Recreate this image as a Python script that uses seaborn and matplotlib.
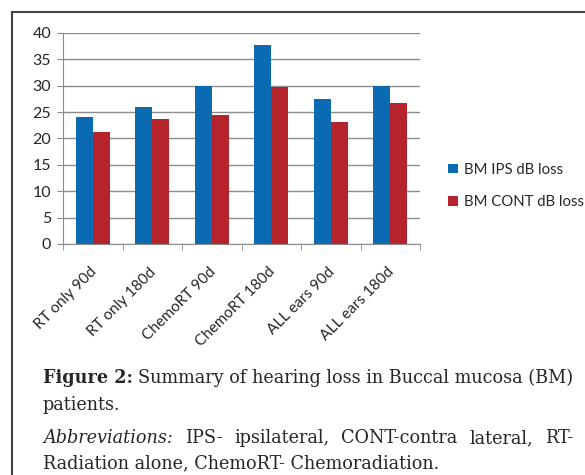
import pandas as pd
import matplotlib.pyplot as plt
import seaborn as sns
from matplotlib.patches import Rectangle
from matplotlib.transforms import ScaledTranslation

# Datos del grafico
categorias = ['RT only 90d', 'RT only 180d', 'ChemoRT 90d', 'ChemoRT 180d',
              'ALL ears 90d', 'ALL ears 180d']
series = ['BM IPS dB loss', 'BM CONT dB loss']
ips = [24.0, 26.0, 30.0, 37.7, 27.4, 30.0]
cont = [21.2, 23.7, 24.5, 29.7, 23.1, 26.8]
colores = ['#0A6BB3', '#B5232B']

df = pd.DataFrame({
    'categoria': categorias * 2,
    'serie': [series[0]] * len(ips) + [series[1]] * len(cont),
    'valor': ips + cont,
})

sns.set_style('white')
plt.rcParams['font.family'] = ['Lato', 'DejaVu Sans']

fig = plt.figure(figsize=(5.85, 4.75), dpi=100)
ax = fig.add_axes([63 / 585, 1 - 244 / 475, 357 / 585, 211 / 475])

sns.barplot(data=df, x='categoria', y='valor', hue='serie', palette=colores,
            saturation=1, width=0.57, ax=ax, legend=True, linewidth=0,
            edgecolor='none')

ax.set_ylim(0, 40)
ax.set_xlim(-0.5, len(categorias) - 0.5)
ax.set_yticks(range(0, 41, 5))
ax.yaxis.grid(True, color='#8c8c8c', linewidth=1)
ax.set_axisbelow(True)
ax.set_xlabel('')
ax.set_ylabel('')
for s in ['top', 'right']:
    ax.spines[s].set_visible(False)
ax.spines['left'].set_color('#8c8c8c')
ax.spines['bottom'].set_color('#8c8c8c')

ax.tick_params(axis='y', length=4.5, color='#8c8c8c', labelsize=11.5, pad=4, left=True)
ax.tick_params(axis='x', which='major', length=0, labelsize=11, pad=5)
ax.set_xticks([i - 0.5 for i in range(len(categorias) + 1)], minor=True)
ax.tick_params(axis='x', which='minor', length=4.5, color='#8c8c8c', bottom=True)
desplaza = ScaledTranslation(-3 / 100, -14 / 100, fig.dpi_scale_trans)
for lab in ax.get_xticklabels():
    lab.set_rotation(45)
    lab.set_ha('right')
    lab.set_rotation_mode('anchor')
    lab.set_transform(lab.get_transform() + desplaza)

handles, labels = ax.get_legend_handles_labels()
ax.legend(handles, labels, loc='center left', bbox_to_anchor=(448 / 585, 1 - 186 / 475),
          bbox_transform=fig.transFigure, frameon=False, fontsize=10.7,
          borderpad=0, borderaxespad=0,
          handlelength=0.65, handleheight=0.65, handletextpad=0.4, labelspacing=1.25)

# Marco exterior
fig.patches.append(Rectangle((12 / 585, -0.1), 1.2, 1 - 12 / 475 + 0.1,
                             transform=fig.transFigure, fill=False,
                             edgecolor='#444444', linewidth=1.5))

serif = ['DejaVu Serif']
fs = 12.7
t1 = fig.text(43 / 585, 1 - 378 / 475, 'Figure 2:', family=serif, fontsize=fs,
              fontweight='bold', va='center')
fig.canvas.draw()
r = fig.canvas.get_renderer()
w1 = t1.get_window_extent(r).width
fig.text((43 + w1 + 5) / 585, 1 - 378 / 475,
         'Summary of hearing loss in Buccal mucosa (BM)', family=serif,
         fontsize=fs, va='center')
fig.text(43 / 585, 1 - 405 / 475, 'patients.', family=serif, fontsize=fs, va='center')

# Linea justificada
palabras = ['IPS-', 'ipsilateral,', 'CONT-contra', 'lateral,', 'RT-']
t2 = fig.text(43 / 585, 1 - 438 / 475, 'Abbreviations:', family=serif, fontsize=fs,
              style='italic', va='center')
fig.canvas.draw()
x0 = 43 + t2.get_window_extent(r).width
objs = [fig.text(0, 1 - 438 / 475, p, family=serif, fontsize=fs, va='center')
        for p in palabras]
fig.canvas.draw()
anchos = [o.get_window_extent(r).width for o in objs]
hueco = (573 - x0 - sum(anchos)) / len(palabras)
x = x0 + hueco
for o, a in zip(objs, anchos):
    o.set_x(x / 585)
    x += a + hueco
fig.text(43 / 585, 1 - 463 / 475, 'Radiation alone, ChemoRT- Chemoradiation.',
         family=serif, fontsize=fs, va='center')

fig.savefig('out.png', dpi=100)
